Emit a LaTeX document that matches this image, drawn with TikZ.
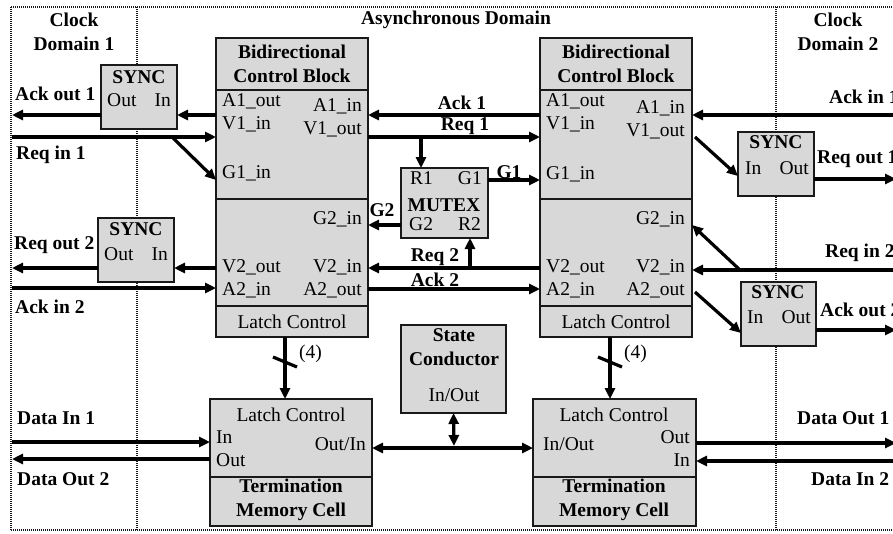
\documentclass[tikz,border=0pt]{standalone}
\usepackage{fontspec}
\setmainfont{Liberation Serif}
\usetikzlibrary{arrows.meta}
\definecolor{boxgray}{RGB}{216,216,216}
\definecolor{ink}{RGB}{25,25,25}
\begin{document}
\begin{tikzpicture}[x=1pt,y=-1pt,
  blk/.style={draw=ink, fill=boxgray, line width=1.5pt, inner sep=0pt, outer sep=0pt, anchor=north west},
  sepline/.style={draw=ink, line width=1.5pt},
  arr/.style={draw=black, line width=3.2pt, -{Triangle[length=11pt,width=10pt]}},
  darr/.style={draw=black, line width=3.2pt, {Triangle[length=11pt,width=10pt]}-{Triangle[length=11pt,width=10pt]}},
  plainline/.style={draw=black, line width=3.2pt},
  dotline/.style={draw=ink, line width=1.8pt, dash pattern=on 1pt off 1pt},
  lbl/.style={inner sep=0pt, font=\fontsize{19.5}{23}\selectfont},
  bld/.style={inner sep=0pt, font=\fontsize{19.5}{23.5}\selectfont\bfseries, align=center},
]
\useasboundingbox (0,0) rectangle (893,533);
\clip (0,0) rectangle (893,533);
\fill[white] (0,0) rectangle (893,533);

% domain frame
\draw[dotline] (11,7) -- (893,7);
\draw[dotline] (11,7) -- (11,530);
\draw[dotline] (11,530) -- (893,530);
\draw[dotline] (137,7) -- (137,530);
\draw[dotline] (776,7) -- (776,530);

% headings
\node[bld] (hcd1) at (74,32) {Clock\\Domain 1};
\node[bld] (hasy) at (456,20) {Asynchronous Domain};
\node[bld] (hcd2) at (838,32) {Clock\\Domain 2};

% row coordinates
\coordinate (yA1) at (0,115);
\coordinate (yV1) at (0,137);
\coordinate (yG1) at (0,180);
\coordinate (yG2) at (0,225);
\coordinate (yV2) at (0,268);
\coordinate (yA2) at (0,289);

% ---------- left bidirectional control block ----------
\node[blk, minimum width=152pt, minimum height=299pt] (lb) at (216,38) {};
\draw[sepline] (lb.west |- 0,90) -- (lb.east |- 0,90);
\draw[sepline] (lb.west |- 0,199) -- (lb.east |- 0,199);
\draw[sepline] (lb.west |- 0,306) -- (lb.east |- 0,306);
\node[bld] (lbh) at (292,64) {Bidirectional\\Control Block};
\node[lbl] (lblc) at (292,322) {Latch Control};
\node[lbl, anchor=mid west] (lpA1o) at (222,104) {A1\_out};
\node[lbl, anchor=mid west] (lpV1i) at (222,127) {V1\_in};
\node[lbl, anchor=mid west] (lpG1i) at (222,176) {G1\_in};
\node[lbl, anchor=mid west] (lpV2o) at (222,270) {V2\_out};
\node[lbl, anchor=mid west] (lpA2i) at (222,293) {A2\_in};
\node[lbl, anchor=mid east] (lpA1i) at (362,109) {A1\_in};
\node[lbl, anchor=mid east] (lpV1o) at (362,132) {V1\_out};
\node[lbl, anchor=mid east] (lpG2i) at (362,222) {G2\_in};
\node[lbl, anchor=mid east] (lpV2i) at (362,270) {V2\_in};
\node[lbl, anchor=mid east] (lpA2o) at (362,293) {A2\_out};

% ---------- right bidirectional control block ----------
\node[blk, minimum width=152pt, minimum height=299pt] (rb) at (540,38) {};
\draw[sepline] (rb.west |- 0,90) -- (rb.east |- 0,90);
\draw[sepline] (rb.west |- 0,199) -- (rb.east |- 0,199);
\draw[sepline] (rb.west |- 0,306) -- (rb.east |- 0,306);
\node[bld] (rbh) at (616,64) {Bidirectional\\Control Block};
\node[lbl] (rblc) at (616,322) {Latch Control};
\node[lbl, anchor=mid west] (rpA1o) at (546,104) {A1\_out};
\node[lbl, anchor=mid west] (rpV1i) at (546,127) {V1\_in};
\node[lbl, anchor=mid west] (rpG1i) at (546,177) {G1\_in};
\node[lbl, anchor=mid west] (rpV2o) at (546,270) {V2\_out};
\node[lbl, anchor=mid west] (rpA2i) at (546,293) {A2\_in};
\node[lbl, anchor=mid east] (rpA1i) at (685,111) {A1\_in};
\node[lbl, anchor=mid east] (rpV1o) at (685,134) {V1\_out};
\node[lbl, anchor=mid east] (rpG2i) at (685,222) {G2\_in};
\node[lbl, anchor=mid east] (rpV2i) at (685,270) {V2\_in};
\node[lbl, anchor=mid east] (rpA2o) at (685,293) {A2\_out};

% ---------- SYNC blocks ----------
\node[blk, minimum width=76pt, minimum height=64pt] (s1) at (101,65) {};
\node[bld] (s1t) at (139,77) {SYNC};
\node[lbl, anchor=mid west] (s1o) at (107,104) {Out};
\node[lbl, anchor=mid east] (s1i) at (171,104) {In};

\node[blk, minimum width=76pt, minimum height=64pt] (s2) at (98,218) {};
\node[bld] (s2t) at (136,229) {SYNC};
\node[lbl, anchor=mid west] (s2o) at (104,258) {Out};
\node[lbl, anchor=mid east] (s2i) at (168,258) {In};

\node[blk, minimum width=76pt, minimum height=64pt] (s3) at (738,132) {};
\node[bld] (s3t) at (776,142) {SYNC};
\node[lbl, anchor=mid west] (s3i) at (745,172) {In};
\node[lbl, anchor=mid east] (s3o) at (809,172) {Out};

\node[blk, minimum width=75pt, minimum height=64pt] (s4) at (741,282) {};
\node[bld] (s4t) at (778,292) {SYNC};
\node[lbl, anchor=mid west] (s4i) at (747,321) {In};
\node[lbl, anchor=mid east] (s4o) at (811,321) {Out};

% ---------- MUTEX ----------
\node[blk, minimum width=87pt, minimum height=70pt] (mx) at (401,168) {};
\node[lbl, anchor=mid west] (mxR1) at (410,182) {R1};
\node[lbl, anchor=mid east] (mxG1) at (482,182) {G1};
\node[bld] (mxt) at (444,205) {MUTEX};
\node[lbl, anchor=mid west] (mxG2) at (409,228) {G2};
\node[lbl, anchor=mid east] (mxR2) at (481,228) {R2};

% ---------- State Conductor ----------
\node[blk, minimum width=105pt, minimum height=88pt] (sc) at (401,325) {};
\node[bld] (sct) at (454,347) {State\\Conductor};
\node[lbl] (scio) at (454,395) {In/Out};

% ---------- Termination Memory Cells ----------
\node[blk, minimum width=162pt, minimum height=127pt] (t1) at (210,399) {};
\draw[sepline] (t1.west |- 0,477) -- (t1.east |- 0,477);
\node[lbl] (t1lc) at (291,415) {Latch Control};
\node[lbl, anchor=mid west] (t1in) at (216,441) {In};
\node[lbl, anchor=mid west] (t1out) at (216,464) {Out};
\node[lbl, anchor=mid east] (t1oi) at (366,448) {Out/In};
\node[bld] (t1t) at (291,500) {Termination\\Memory Cell};

\node[blk, minimum width=163pt, minimum height=127pt] (t2) at (533,399) {};
\draw[sepline] (t2.west |- 0,477) -- (t2.east |- 0,477);
\node[lbl] (t2lc) at (614,415) {Latch Control};
\node[lbl, anchor=mid west] (t2io) at (543,448) {In/Out};
\node[lbl, anchor=mid east] (t2out) at (690,441) {Out};
\node[lbl, anchor=mid east] (t2in) at (690,464) {In};
\node[bld] (t2t) at (614,500) {Termination\\Memory Cell};

% ---------- edge coordinates ----------
\coordinate (eL) at (12,0);
\coordinate (eR) at (896,0);

% ---------- left side signals ----------
\draw[arr] (lb.west |- yA1) -- (s1.east |- yA1);
\draw[arr] (s1.west |- yA1) -- (eL |- yA1);
\draw[arr] (eL |- yV1) -- (lb.west |- yV1);
\coordinate (brL) at (172,137);
\draw[arr] (brL) -- (lb.west |- 0,180);
\node[bld, anchor=mid west] (lAo1) at (15,98) {Ack out 1};
\node[bld, anchor=mid west] (lRi1) at (16,157) {Req in 1};

\draw[arr] (lb.west |- yV2) -- (s2.east |- yV2);
\draw[arr] (s2.west |- yV2) -- (eL |- yV2);
\draw[arr] (eL |- 0,288) -- (lb.west |- 0,288);
\node[bld, anchor=mid west] (lRo2) at (14,247) {Req out 2};
\node[bld, anchor=mid west] (lAi2) at (15,311) {Ack in 2};

% ---------- middle signals ----------
\draw[arr] (rb.west |- yA1) -- (lb.east |- yA1);
\draw[arr] (lb.east |- yV1) -- (rb.west |- yV1);
\coordinate (brR1) at (421,137);
\draw[arr] (brR1) -- (mx.north -| brR1);
\draw[arr] (mx.east |- yG1) -- (rb.west |- yG1);
\draw[arr] (mx.west |- yG2) -- (lb.east |- yG2);
\draw[arr] (rb.west |- yV2) -- (lb.east |- yV2);
\coordinate (brR2) at (470,268);
\draw[arr] (brR2) -- (mx.south -| brR2);
\draw[arr] (lb.east |- yA2) -- (rb.west |- yA2);
\node[bld] (mA1) at (462,103) {Ack 1};
\node[bld] (mR1) at (465,126) {Req 1};
\node[bld] (mG1) at (509,172) {G1};
\node[bld] (mG2) at (382,210) {G2};
\node[bld] (mR2) at (435,257) {Req 2};
\node[bld] (mA2) at (435,280) {Ack 2};

% ---------- right side signals ----------
\draw[arr] (eR |- yA1) -- (rb.east |- yA1);
\draw[arr] (695,137) -- (s3.west |- 0,176);
\draw[arr] (s3.east |- 0,179) -- (eR |- 0,179);
\draw[arr] (eR |- 0,270) -- (rb.east |- 0,270);
\coordinate (brR3) at (740,270);
\draw[arr] (brR3) -- (rb.east |- 0,225);
\draw[arr] (695,292) -- (s4.west |- 0,333);
\draw[arr] (s4.east |- 0,330) -- (eR |- 0,330);
\node[bld, anchor=mid west] (rAi1) at (829,101) {Ack in 1};
\node[bld, anchor=mid west] (rRo1) at (817,161) {Req out 1};
\node[bld, anchor=mid west] (rRi2) at (825,255) {Req in 2};
\node[bld, anchor=mid west] (rAo2) at (820,314) {Ack out 2};

% ---------- latch control buses ----------
\draw[arr] (lb.south -| 285,0) -- (t1.north -| 285,0);
\draw[plainline] (273,357) -- (297,367);
\node[lbl, anchor=mid west] (l4) at (299,356) {(4)};
\draw[arr] (rb.south -| 610,0) -- (t2.north -| 610,0);
\draw[plainline] (598,357) -- (622,367);
\node[lbl, anchor=mid west] (r4) at (624,356) {(4)};

% ---------- data paths ----------
\draw[arr] (eL |- 0,442) -- (t1.west |- 0,442);
\draw[arr] (t1.west |- 0,459) -- (eL |- 0,459);
\draw[darr] (t1.east |- 0,448) -- (t2.west |- 0,448);
\draw[darr] (454,446) -- (sc.south);
\draw[arr] (t2.east |- 0,443) -- (eR |- 0,443);
\draw[arr] (eR |- 0,461) -- (t2.east |- 0,461);
\node[bld, anchor=mid west] (lDi1) at (17,422) {Data In 1};
\node[bld, anchor=mid west] (lDo2) at (17,483) {Data Out 2};
\node[bld, anchor=mid west] (rDo1) at (797,422) {Data Out 1};
\node[bld, anchor=mid west] (rDi2) at (811,483) {Data In 2};
\end{tikzpicture}
\end{document}
